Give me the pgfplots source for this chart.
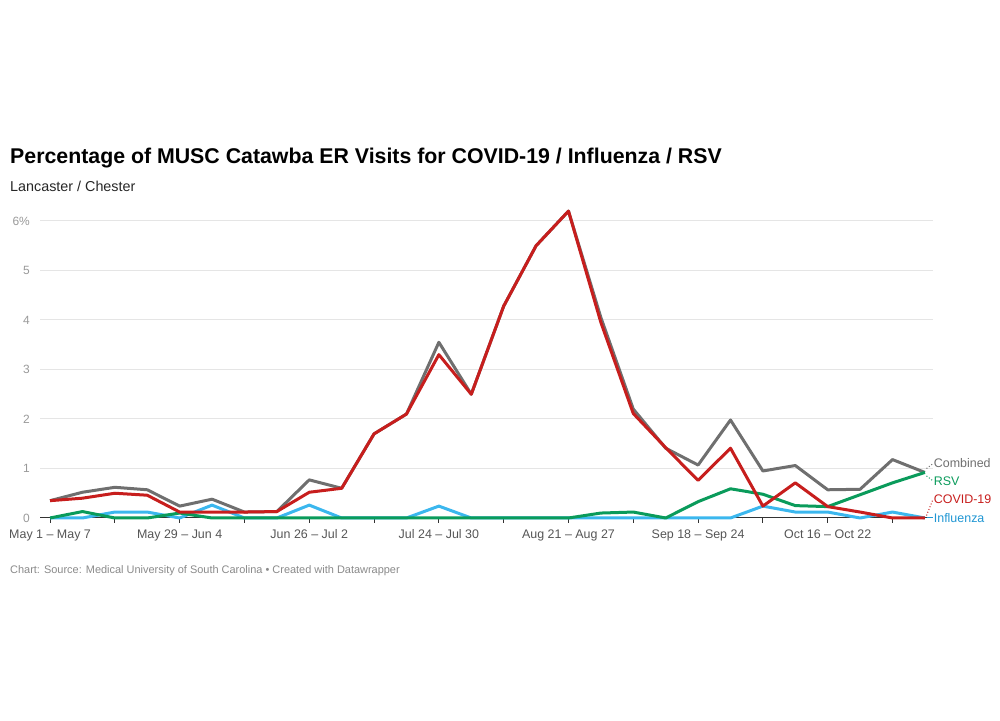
\documentclass[border=0pt]{standalone}
\usepackage{pgfplots}
\pgfplotsset{compat=1.18}
\usepackage{fontspec}
\setmainfont{Liberation Sans}
\definecolor{cComb}{HTML}{6F6F6F}
\definecolor{cCovid}{HTML}{C71E1D}
\definecolor{cFlu}{HTML}{3BB7EE}
\definecolor{cFluTxt}{HTML}{1F96D3}
\definecolor{cRsv}{HTML}{0A9B5B}
\definecolor{cTick}{HTML}{999999}
\definecolor{cXlab}{HTML}{555555}
\definecolor{cFoot}{HTML}{8A8A8A}
\definecolor{cGrid}{HTML}{E5E5E5}

% weeks from May 1 - May 7, values in percent
\pgfplotstableread{
wk comb covid flu rsv
0  0.35 0.35 0.00 0.00
1  0.52 0.40 0.00 0.13
2  0.62 0.50 0.12 0.00
3  0.57 0.46 0.12 0.00
4  0.24 0.12 0.00 0.10
5  0.38 0.12 0.26 0.00
6  0.12 0.12 0.00 0.00
7  0.13 0.13 0.00 0.00
8  0.77 0.52 0.26 0.00
9  0.60 0.60 0.00 0.00
10 1.70 1.70 0.00 0.00
11 2.10 2.10 0.00 0.00
12 3.55 3.30 0.24 0.00
13 2.50 2.50 0.00 0.00
14 4.28 4.28 0.00 0.00
15 5.50 5.50 0.00 0.00
16 6.20 6.20 0.00 0.00
17 4.05 3.95 0.00 0.10
18 2.20 2.11 0.00 0.12
19 1.41 1.42 0.00 0.00
20 1.07 0.76 0.00 0.33
21 1.98 1.41 0.00 0.59
22 0.95 0.24 0.24 0.48
23 1.06 0.71 0.12 0.25
24 0.57 0.23 0.12 0.23
25 0.58 0.12 0.00 0.47
26 1.18 0.00 0.12 0.71
27 0.92 0.00 0.00 0.92
}\datatable

\begin{document}
\begin{tikzpicture}[x=1bp,y=1bp]
\path[use as bounding box] (0,0) rectangle (1000,721);
\node[anchor=base west, inner sep=0pt, font=\fontsize{21.4}{25}\selectfont\bfseries] at (10,721-164) {Percentage of MUSC Catawba ER Visits for COVID-19 / Influenza / RSV};
\node[anchor=base west, inner sep=0pt, font=\fontsize{14.4}{17}\selectfont, text=black!85] at (10,721-192) {Lancaster / Chester};
\node[anchor=base west, inner sep=0pt, font=\fontsize{11}{13}\selectfont, text=cFoot] at (10,721-574) {Chart: Source: Medical University of South Carolina • Created with Datawrapper};

\begin{axis}[
    at={(40bp,203bp)}, anchor=south west,
    scale only axis, width=893bp, height=297bp,
    xmin=-0.31, xmax=27.25,
    ymin=0, ymax=6,
    clip=false,
    axis x line*=bottom, axis y line*=left,
    axis line style={-},
    x axis line style={draw=black!80, line width=1bp},
    y axis line style={draw=none},
    xtick={0,2,...,26},
    xticklabels={May 1 – May 7,,May 29 – Jun 4,,Jun 26 – Jul 2,,Jul 24 – Jul 30,,Aug 21 – Aug 27,,Sep 18 – Sep 24,,Oct 16 – Oct 22,},
    x tick style={draw=black!80, line width=1bp},
    tick align=outside,
    major tick length=5bp,
    xticklabel style={font=\fontsize{12.5}{15}\selectfont, text=cXlab, yshift=-3bp},
    ytick={0,1,...,6},
    yticklabels={0,1,2,3,4,5,6\%},
    y tick style={draw=none},
    yticklabel style={font=\fontsize{12}{14}\selectfont, text=cTick, anchor=east, inner sep=0pt, xshift=-5bp},
    ymajorgrids=true,
    grid style={draw=cGrid, line width=1bp},
]
\addplot[cComb, line width=3bp, line join=round] table[x=wk, y=comb] {\datatable};
\addplot[cFlu, line width=3bp, line join=round] table[x=wk, y=flu] {\datatable};
\addplot[cRsv, line width=3bp, line join=round] table[x=wk, y=rsv] {\datatable};
\addplot[cCovid, line width=3bp, line join=round] table[x=wk, y=covid] {\datatable};

% end labels with dotted leaders
\begin{scope}[font=\fontsize{12.5}{15}\selectfont]
\draw[cComb, dotted, line width=1bp] (axis cs:27.05,1.0) -- (axis cs:27.25,1.1);
\node[anchor=west, inner sep=0pt, text=cComb] at (axis cs:27.27,1.12) {Combined};
\draw[cRsv, dotted, line width=1bp] (axis cs:27.05,0.85) -- (axis cs:27.25,0.75);
\node[anchor=west, inner sep=0pt, text=cRsv] at (axis cs:27.27,0.75) {RSV};
\draw[cCovid, dotted, line width=1bp] (axis cs:27.05,0.05) -- (axis cs:27.25,0.38);
\node[anchor=west, inner sep=0pt, text=cCovid] at (axis cs:27.27,0.38) {COVID-19};
\draw[cFluTxt, line width=1bp] (axis cs:27.05,0) -- (axis cs:27.25,0);
\node[anchor=west, inner sep=0pt, text=cFluTxt] at (axis cs:27.27,0) {Influenza};
\end{scope}
\end{axis}
\end{tikzpicture}
\end{document}
